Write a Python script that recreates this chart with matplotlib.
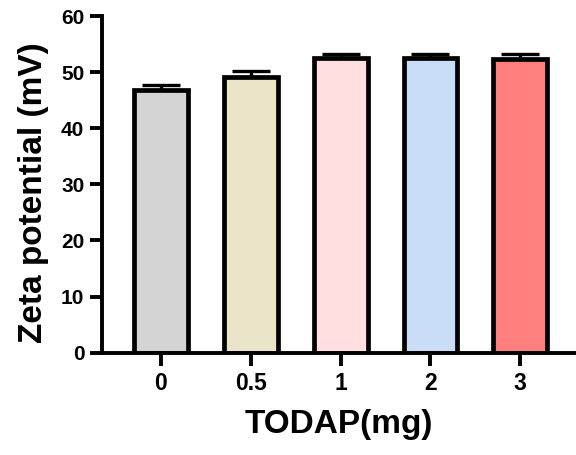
import matplotlib
matplotlib.use("Agg")
import matplotlib.pyplot as plt
import numpy as np

categories = ["0", "0.5", "1", "2", "3"]
values = [46.9, 49.2, 52.5, 52.5, 52.4]
errors = [0.8, 1.0, 0.7, 0.7, 0.9]
colors = ["#D4D4D4", "#EAE4C9", "#FFDFE0", "#C9DDF6", "#FF7F7F"]
y_ticks = [0, 10, 20, 30, 40, 50, 60]

plt.rcParams['font.family'] = ['Liberation Sans', 'DejaVu Sans']
plt.rcParams['font.weight'] = 'bold'

fig = plt.figure(figsize=(5.76, 4.55), dpi=100)
ax = fig.add_axes([101.7/576, 102.3/455, 1 - 101.7/576, (352.7-16)/455])

x = np.arange(len(categories))
ax.errorbar(x, values, yerr=[[0]*len(errors), errors], fmt='none', ecolor='black',
            elinewidth=2.4, capsize=14, capthick=2.4, zorder=1)
ax.bar(x, values, width=0.6, color=colors, edgecolor='black', linewidth=3.4, zorder=2)

ax.set_xlim(-0.66, 4.62)
ax.set_ylim(0, 60)
ax.set_yticks(y_ticks)
ax.set_xticks(x)
ax.set_xticklabels(categories)

for s in ['top', 'right']:
    ax.spines[s].set_visible(False)
for s in ['left', 'bottom']:
    ax.spines[s].set_linewidth(2.8)
ax.tick_params(axis='y', width=2.8, length=8.5, labelsize=15, pad=4)
ax.tick_params(axis='x', width=2.8, length=9, labelsize=16.5, pad=5)
for lab in ax.get_xticklabels() + ax.get_yticklabels():
    lab.set_fontweight('bold')

ax.set_ylabel("Zeta potential (mV)", fontsize=24, fontweight='bold')
ax.yaxis.set_label_coords(-0.112, 0.475)
ax.set_xlabel("TODAP(mg)", fontsize=24, fontweight='bold', labelpad=10)

fig.savefig("out.png", dpi=100)
